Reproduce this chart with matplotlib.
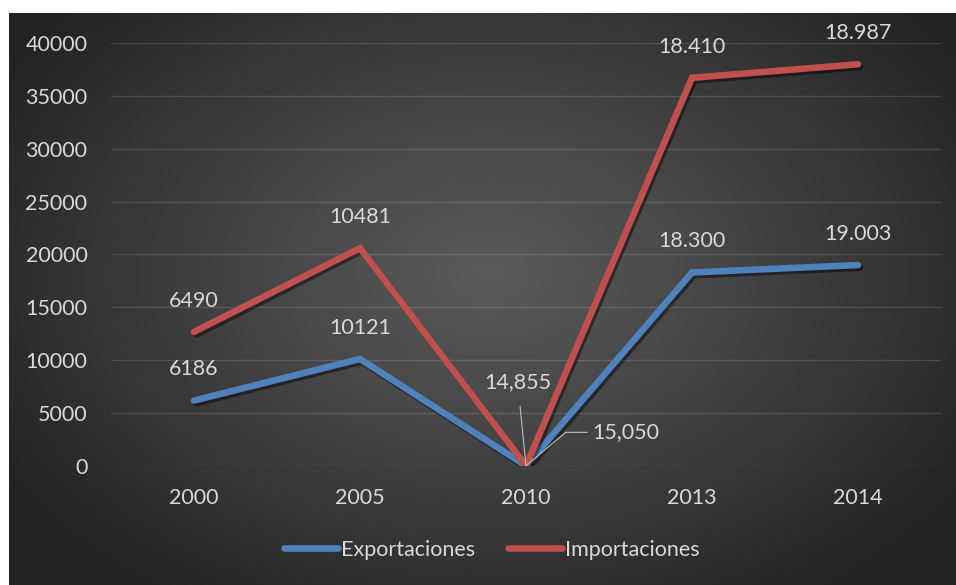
import matplotlib.pyplot as plt
import matplotlib.patheffects as pe
import numpy as np

years = ['2000', '2005', '2010', '2013', '2014']
exportaciones = [6186, 10121, 14.855, 18300, 19003]
importaciones = [6490, 10481, 15.050, 18410, 18987]
exp_labels = ['6186', '10121', '14,855', '18.300', '19.003']
imp_labels = ['6490', '10481', '15,050', '18.410', '18.987']

BLUE = '#4f81bd'
RED = '#c0504d'
TXT = '#d9d9d9'
FONT = 'Lato'
FS = 15.5

plt.rcParams['font.family'] = [FONT, 'DejaVu Sans']

fig = plt.figure(figsize=(9.56, 5.85), dpi=100)
fig.patch.set_facecolor('white')

# dark radial background of the chart area
bg = fig.add_axes([9 / 956, 0, 1 - 9 / 956, 1 - 13 / 585])
h, w = 572, 947
yy, xx = np.mgrid[0:h, 0:w]
d = np.sqrt(((xx - 480) / 580) ** 2 + ((yy - 260) / 400) ** 2)
d = np.clip(d, 0, 1) ** 1.1
c = 0x5a / 255 + (0x22 / 255 - 0x5a / 255) * d
bg.imshow(np.dstack([c, c, c]), aspect='auto', interpolation='bilinear')
bg.axis('off')

ax = fig.add_axes([111 / 956, 119 / 585, 830 / 956, 423 / 585])
ax.patch.set_alpha(0)

x = np.arange(len(years))
exp = np.array(exportaciones)
tot = exp + np.array(importaciones)

shadow = [pe.SimpleLineShadow(offset=(1.5, -2), alpha=0.45, shadow_color='black'), pe.Normal()]
ax.plot(x, exp, color=BLUE, lw=4.7, solid_capstyle='round', solid_joinstyle='miter',
        path_effects=shadow, label='Exportaciones', zorder=3)
ax.plot(x, tot, color=RED, lw=4.7, solid_capstyle='round', solid_joinstyle='miter',
        path_effects=shadow, label='Importaciones', zorder=3)

ax.set_xlim(-0.5, len(years) - 0.5)
ax.set_ylim(0, 40000)
ax.set_yticks(range(0, 40001, 5000))
ax.set_xticks(x)
ax.set_xticklabels(years)
ax.grid(axis='y', color='white', alpha=0.13, lw=1)
ax.set_axisbelow(True)
for s in ax.spines.values():
    s.set_visible(False)
ax.tick_params(length=0, colors=TXT, labelsize=FS)
ax.tick_params(axis='y', pad=17)
ax.tick_params(axis='x', pad=16)

# data labels above the points, the 2010 pair pulled out with leader lines
for i in range(len(years)):
    if years[i] == '2010':
        ax.annotate(exp_labels[i], (x[i], exp[i]), xytext=(-6, 60), textcoords='offset points',
                    ha='center', va='center', color=TXT, fontsize=FS,
                    arrowprops=dict(arrowstyle='-', color='#bfbfbf', lw=0.8, shrinkA=8, shrinkB=0))
        ax.annotate(imp_labels[i], (x[i], tot[i]), xytext=(48, 24), textcoords='offset points',
                    ha='left', va='center', color=TXT, fontsize=FS,
                    arrowprops=dict(arrowstyle='-', color='#bfbfbf', lw=0.8, shrinkA=2, shrinkB=0,
                                    connectionstyle='angle,angleA=0,angleB=40,rad=0'))
        continue
    ax.annotate(exp_labels[i], (x[i], exp[i]), xytext=(0, 22.5), textcoords='offset points',
                ha='center', va='center', color=TXT, fontsize=FS)
    ax.annotate(imp_labels[i], (x[i], tot[i]), xytext=(0, 22.5), textcoords='offset points',
                ha='center', va='center', color=TXT, fontsize=FS)

leg = fig.legend(loc='center', bbox_to_anchor=(492 / 956, 1 - 550 / 585), ncol=2,
                 frameon=False, fontsize=FS, handlelength=2.5, handletextpad=0.15,
                 columnspacing=1.5, labelcolor=TXT)
for line in leg.get_lines():
    line.set_path_effects([])
    line.set_linewidth(4.7)

fig.savefig('out.png', dpi=100, facecolor=fig.get_facecolor())
